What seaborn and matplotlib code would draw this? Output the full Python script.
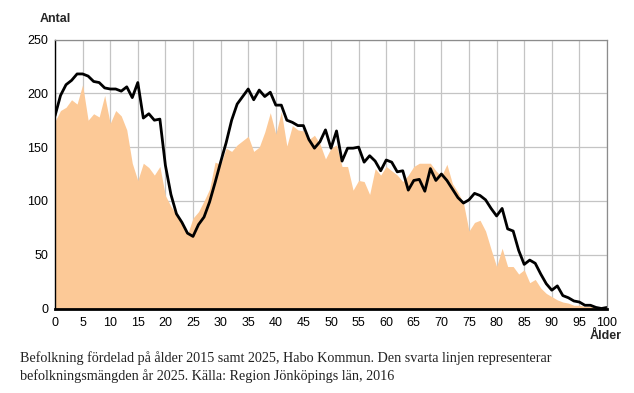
import pandas as pd
import matplotlib
matplotlib.use("Agg")
import matplotlib.pyplot as plt
import seaborn as sns

sns.set_theme(style="white")
plt.rcParams["font.family"] = ["Liberation Sans", "DejaVu Sans"]

# ----------------------------------------------------------------------
# DATA: population by age, Habo kommun
# ----------------------------------------------------------------------
ages = list(range(101))

# 2015 (filled area)
pop_2015 = [
    174, 184, 187, 194, 190, 208, 175, 181, 178, 198,
    172, 184, 179, 166, 135, 119, 135, 131, 124, 132,
    105, 95, 87, 80, 69, 84, 90, 100, 111, 136,
    134, 149, 146, 152, 156, 160, 146, 150, 164, 182,
    162, 183, 151, 170, 166, 165, 157, 161, 153, 139,
    149, 152, 132, 132, 110, 119, 118, 106, 130, 124,
    132, 128, 124, 118, 124, 132, 135, 135, 135, 128,
    123, 134, 116, 108, 98, 72, 80, 82, 72, 55,
    39, 56, 39, 39, 32, 36, 24, 27, 19, 14,
    11, 8, 6, 5, 3, 3, 2, 2, 1, 0,
    0,
]

# 2025 (black line, projection)
pop_2025 = [
    179, 198, 208, 212, 218, 218, 216, 211, 210, 205,
    204, 204, 202, 206, 196, 210, 177, 181, 175, 176,
    133, 106, 88, 80, 70, 67, 78, 85, 99, 117,
    136, 154, 175, 190, 197, 204, 194, 203, 197, 201,
    189, 189, 175, 173, 170, 170, 157, 149, 155, 166,
    149, 165, 137, 149, 149, 150, 136, 142, 137, 128,
    138, 136, 127, 128, 110, 119, 120, 109, 130, 119,
    125, 119, 111, 103, 98, 101, 107, 105, 101, 93,
    86, 93, 74, 72, 54, 41, 45, 42, 32, 23,
    17, 21, 12, 10, 7, 6, 3, 3, 1, 0,
    1,
]

x_ticks = list(range(0, 101, 5))
y_ticks = [0, 50, 100, 150, 200, 250]

caption = ("Befolkning fördelad på ålder 2015 samt 2025, Habo Kommun. Den svarta linjen representerar\n"
           "befolkningsmängden år 2025. Källa: Region Jönköpings län, 2016")

df = pd.DataFrame({"age": ages, "pop_2015": pop_2015, "pop_2025": pop_2025})

# ----------------------------------------------------------------------
# PLOT
# ----------------------------------------------------------------------
fig = plt.figure(figsize=(6.34, 3.93), dpi=100)
ax = fig.add_axes([55 / 634, 1 - 308.5 / 393, 552 / 634, 269 / 393])

ax.fill_between(df["age"], 0, df["pop_2015"], color="#FCC997", linewidth=0, zorder=2)
sns.lineplot(data=df, x="age", y="pop_2025", color="black", linewidth=2.0, ax=ax, zorder=3)

ax.set_xlim(0, 100)
ax.set_ylim(0, 250)
ax.set_xticks(x_ticks)
ax.set_yticks(y_ticks)
ax.set_xlabel("")
ax.set_ylabel("")

ax.grid(True, color="#c4c4c4", linewidth=0.9, zorder=1)
ax.set_axisbelow(True)
ax.tick_params(axis="both", labelsize=9, colors="black", length=3, width=0.8,
               direction="out", pad=2)
ax.tick_params(axis="x", length=0, pad=6)

for side in ["top", "right"]:
    ax.spines[side].set_color("#8c8c8c")
    ax.spines[side].set_linewidth(0.9)
ax.spines["left"].set_color("black")
ax.spines["left"].set_linewidth(1.0)
ax.spines["bottom"].set_color("black")
ax.spines["bottom"].set_linewidth(2.0)
for s in ax.spines.values():
    s.set_zorder(4)

fig.text(40 / 634, 1 - 19 / 393, "Antal", fontsize=9, fontweight="bold", va="center", ha="left")
fig.text(606 / 634, 1 - 336 / 393, "Ålder", fontsize=9, fontweight="bold", va="center", ha="center")

fig.text(20 / 634, 1 - 367 / 393, caption, fontsize=10.2, family=["Liberation Serif", "DejaVu Serif"],
         va="center", ha="left", linespacing=1.45, color="#222222")

fig.savefig("out.png", dpi=100)
plt.close(fig)
